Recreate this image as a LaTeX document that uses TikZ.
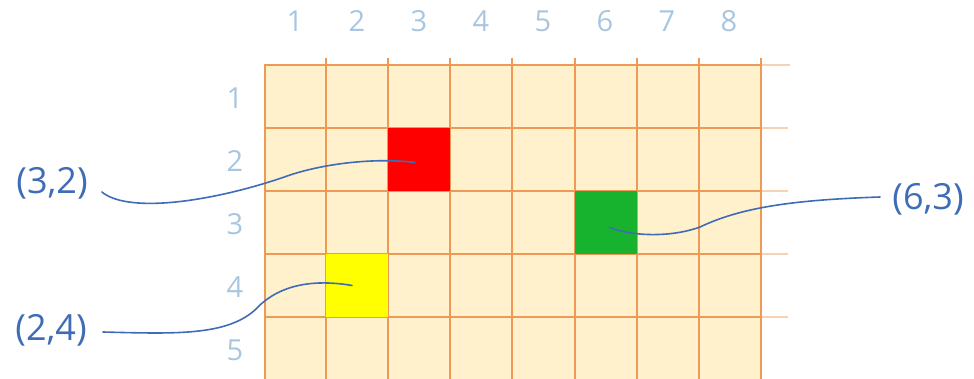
\documentclass[tikz,border=0pt]{standalone}
\usepackage{fontspec}
\setmainfont{Open Sans}
\usetikzlibrary{positioning, calc}
\definecolor{gridfill}{HTML}{FFF1CC}
\definecolor{gridline}{HTML}{EC9A55}
\definecolor{axislbl}{HTML}{A9C6E0}
\definecolor{coordlbl}{HTML}{3E6CB6}
\definecolor{cellred}{HTML}{FF0000}
\definecolor{cellgreen}{HTML}{17B32E}
\definecolor{cellyellow}{HTML}{FFFF00}

\begin{document}
\begin{tikzpicture}[
    x=1pt, y=-1pt,
    axis/.style={text=axislbl, font=\fontsize{29}{29}\selectfont, inner sep=0pt},
    coord/.style={text=coordlbl, font=\fontsize{36}{36}\selectfont, inner sep=0pt},
    cell/.style={rectangle, minimum width=62pt, minimum height=63pt, inner sep=0pt},
    gline/.style={draw=gridline, line width=1.5pt},
    border/.style={draw=gridline, line width=2.8pt},
    leader/.style={draw=coordlbl, line width=1.6pt, line cap=round},
]
\useasboundingbox (0,0) rectangle (974,379);

% ===== Grid: 8 columns x 5 rows =====
\fill[gridfill] (265,65) rectangle (761,379);
\foreach \y in {128,191,254,317} {
    \draw[gline] (265,\y) -- (761,\y);
    \draw[gridline!45, line width=1.5pt] (761,\y) -- (788,\y);
}
\draw[gridline!45, line width=1.5pt] (761,65) -- (790,65);
\foreach \x in {326,388,450,512,575,637,699} {
    \draw[gline] (\x,58) -- (\x,379);
}
\draw[border] (265,379) -- (265,65) -- (761,65) -- (761,379);
\draw[gline] (761,58) -- (761,65);

% ===== Axis numbers =====
\foreach \i [evaluate=\i as \cx using 233+62*\i] in {1,...,8} {
    \node[axis] (col\i) at (\cx,21) {\i};
}
\foreach \j [evaluate=\j as \cy using 35+63*\j] in {1,...,5} {
    \node[axis] (row\j) at (235,\cy) {\j};
}

% ===== Marked cells =====
\node[cell, fill=cellred]    (cell32) at (419,159.5) {};
\node[cell, fill=cellgreen]  (cell63) at (606,222.5) {};
\node[cell, fill=cellyellow] (cell24) at (357,285.5) {};

% ===== Coordinate labels =====
\node[coord] (lbl32) at (52,183) {(3,2)};
\node[coord] (lbl24) at (51,330) {(2,4)};
\node[coord] (lbl63) at (928,199) {(6,3)};

% ===== Leader curves =====
\draw[leader] ($(lbl32.east)+(14,9)$) .. controls (130,215) and (220,200) .. (290,175)
    .. controls (330,162) and (380,158) .. ($(cell32.center)+(-4,3)$);
\draw[leader] ($(lbl24.east)+(16,2)$) .. controls (180,334) and (232,336) .. (260,305)
    .. controls (285,282) and (320,280) .. ($(cell24.center)+(-5,0)$);
\draw[leader] ($(lbl63.west)+(-12,-2)$) .. controls (790,200) and (740,208) .. (700,227)
    .. controls (670,238) and (630,236) .. ($(cell63.center)+(4,5)$);

\end{tikzpicture}
\end{document}
